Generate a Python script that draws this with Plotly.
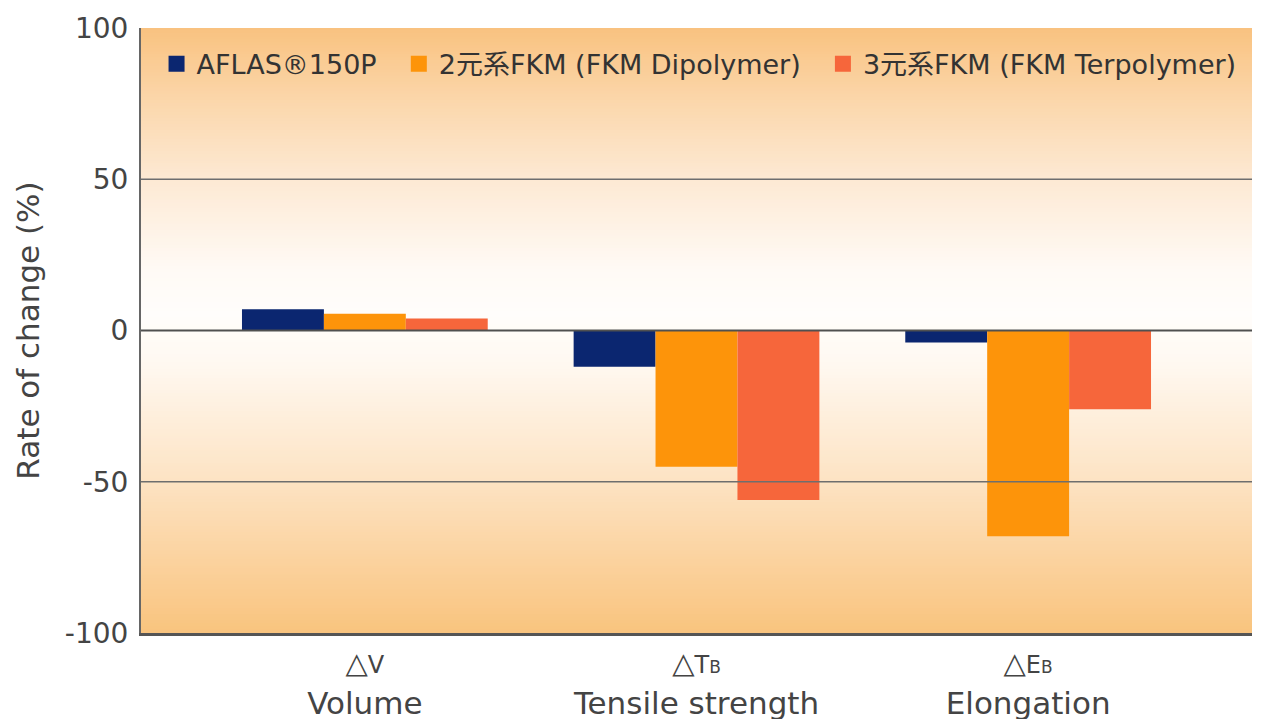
import plotly.graph_objects as go

categories = ["<span style='font-size:24px'><span style='font-size:29px'>△</span>V</span><br>Volume",
              "<span style='font-size:24px'><span style='font-size:29px'>△</span>T<span style='font-size:17px'>B</span></span><br>Tensile strength",
              "<span style='font-size:24px'><span style='font-size:29px'>△</span>E<span style='font-size:17px'>B</span></span><br>Elongation"]
series_names = ["AFLAS®150P", "2元系FKM (FKM Dipolymer)", "3元系FKM (FKM Terpolymer)"]
aflas = [7, -12, -4]
dipolymer = [5.5, -45, -68]
terpolymer = [4, -56, -26]
y_ticks = [100, 50, 0, -50, -100]
y_ticktext = ["100", "50", "0", "-50", "-100"]
colors = ["#0B2670", "#FD940A", "#F6663B"]
legend_pad = ["\u00a0\u00a0", "\u00a0\u00a0", ""]

FONT = "DejaVu Sans, Noto Sans CJK JP, sans-serif"

fig = go.Figure()
for name, vals, c in zip(series_names, [aflas, dipolymer, terpolymer], colors):
    fig.add_trace(go.Bar(x=categories, y=vals, name=name, marker_color=c,
                         marker_line_width=0, showlegend=False, legendgroup=name))
# legend entries with larger square swatches
for name, c, pad in zip(series_names, colors, legend_pad):
    fig.add_trace(go.Scatter(x=[None], y=[None], mode="markers", name=name + pad,
                             legendgroup=name,
                             marker=dict(symbol="square", size=20, color=c, line_width=0)))

# background vertical gradient (value -> color)
stops = [(100, (249, 194, 127)), (75, (251, 215, 172)), (50, (253, 233, 211)),
         (20, (255, 250, 245)), (5, (255, 253, 251)), (-10, (255, 249, 242)),
         (-50, (253, 227, 195)), (-75, (251, 211, 160)), (-100, (249, 196, 126))]

def col_at(v):
    for (v0, c0), (v1, c1) in zip(stops[:-1], stops[1:]):
        if v1 <= v <= v0:
            t = (v0 - v) / (v0 - v1)
            return "rgb(%d,%d,%d)" % tuple(round(a + (b - a) * t) for a, b in zip(c0, c1))
    return "rgb(255,255,255)"

shapes = []
step = 1
v = 100
while v > -100:
    shapes.append(dict(type="rect", xref="paper", yref="y", x0=0, x1=1,
                       y0=v + 0.3, y1=v - step - 0.3, fillcolor=col_at(v - step / 2),
                       line_width=0, layer="below"))
    v -= step

# grid lines drawn over bars
for g, w, c in [(50, 1.3, "#6e6e6e"), (-50, 1.3, "#6e6e6e"), (0, 2, "#505050")]:
    shapes.append(dict(type="line", xref="paper", yref="y", x0=0, x1=1, y0=g, y1=g,
                       line=dict(color=c, width=w), layer="above"))

# page body has an 8px margin, so the figure is sized/offset to compensate
fig.update_layout(
    width=1254, height=711,
    margin=dict(l=133, r=10, t=20, b=86),
    paper_bgcolor="white", plot_bgcolor="white",
    barmode="group", bargap=0.259, bargroupgap=0,
    font=dict(family=FONT, color="#444444"),
    shapes=shapes,
    showlegend=True,
    legend=dict(orientation="h", x=0.014, xanchor="left", y=0.94, yanchor="middle",
                font=dict(size=27, color="#333333", family=FONT),
                bgcolor="rgba(0,0,0,0)", traceorder="normal"),
)
fig.update_xaxes(range=[-0.675, 2.675], showgrid=False, ticks="", automargin=False,
                 tickfont=dict(size=31, color="#444444"),
                 showline=True, linecolor="#555555", linewidth=3, mirror=False)
fig.update_yaxes(range=[-100, 100], tickvals=y_ticks, ticktext=y_ticktext,
                 showgrid=False, zeroline=False, automargin=False,
                 ticks="", ticklabelstandoff=5, tickfont=dict(size=28, color="#444444"),
                 title=dict(text="Rate of change (%)", font=dict(size=31, color="#444444"),
                            standoff=16),
                 showline=True, linecolor="#666666", linewidth=2)

fig.write_html("out.html")
